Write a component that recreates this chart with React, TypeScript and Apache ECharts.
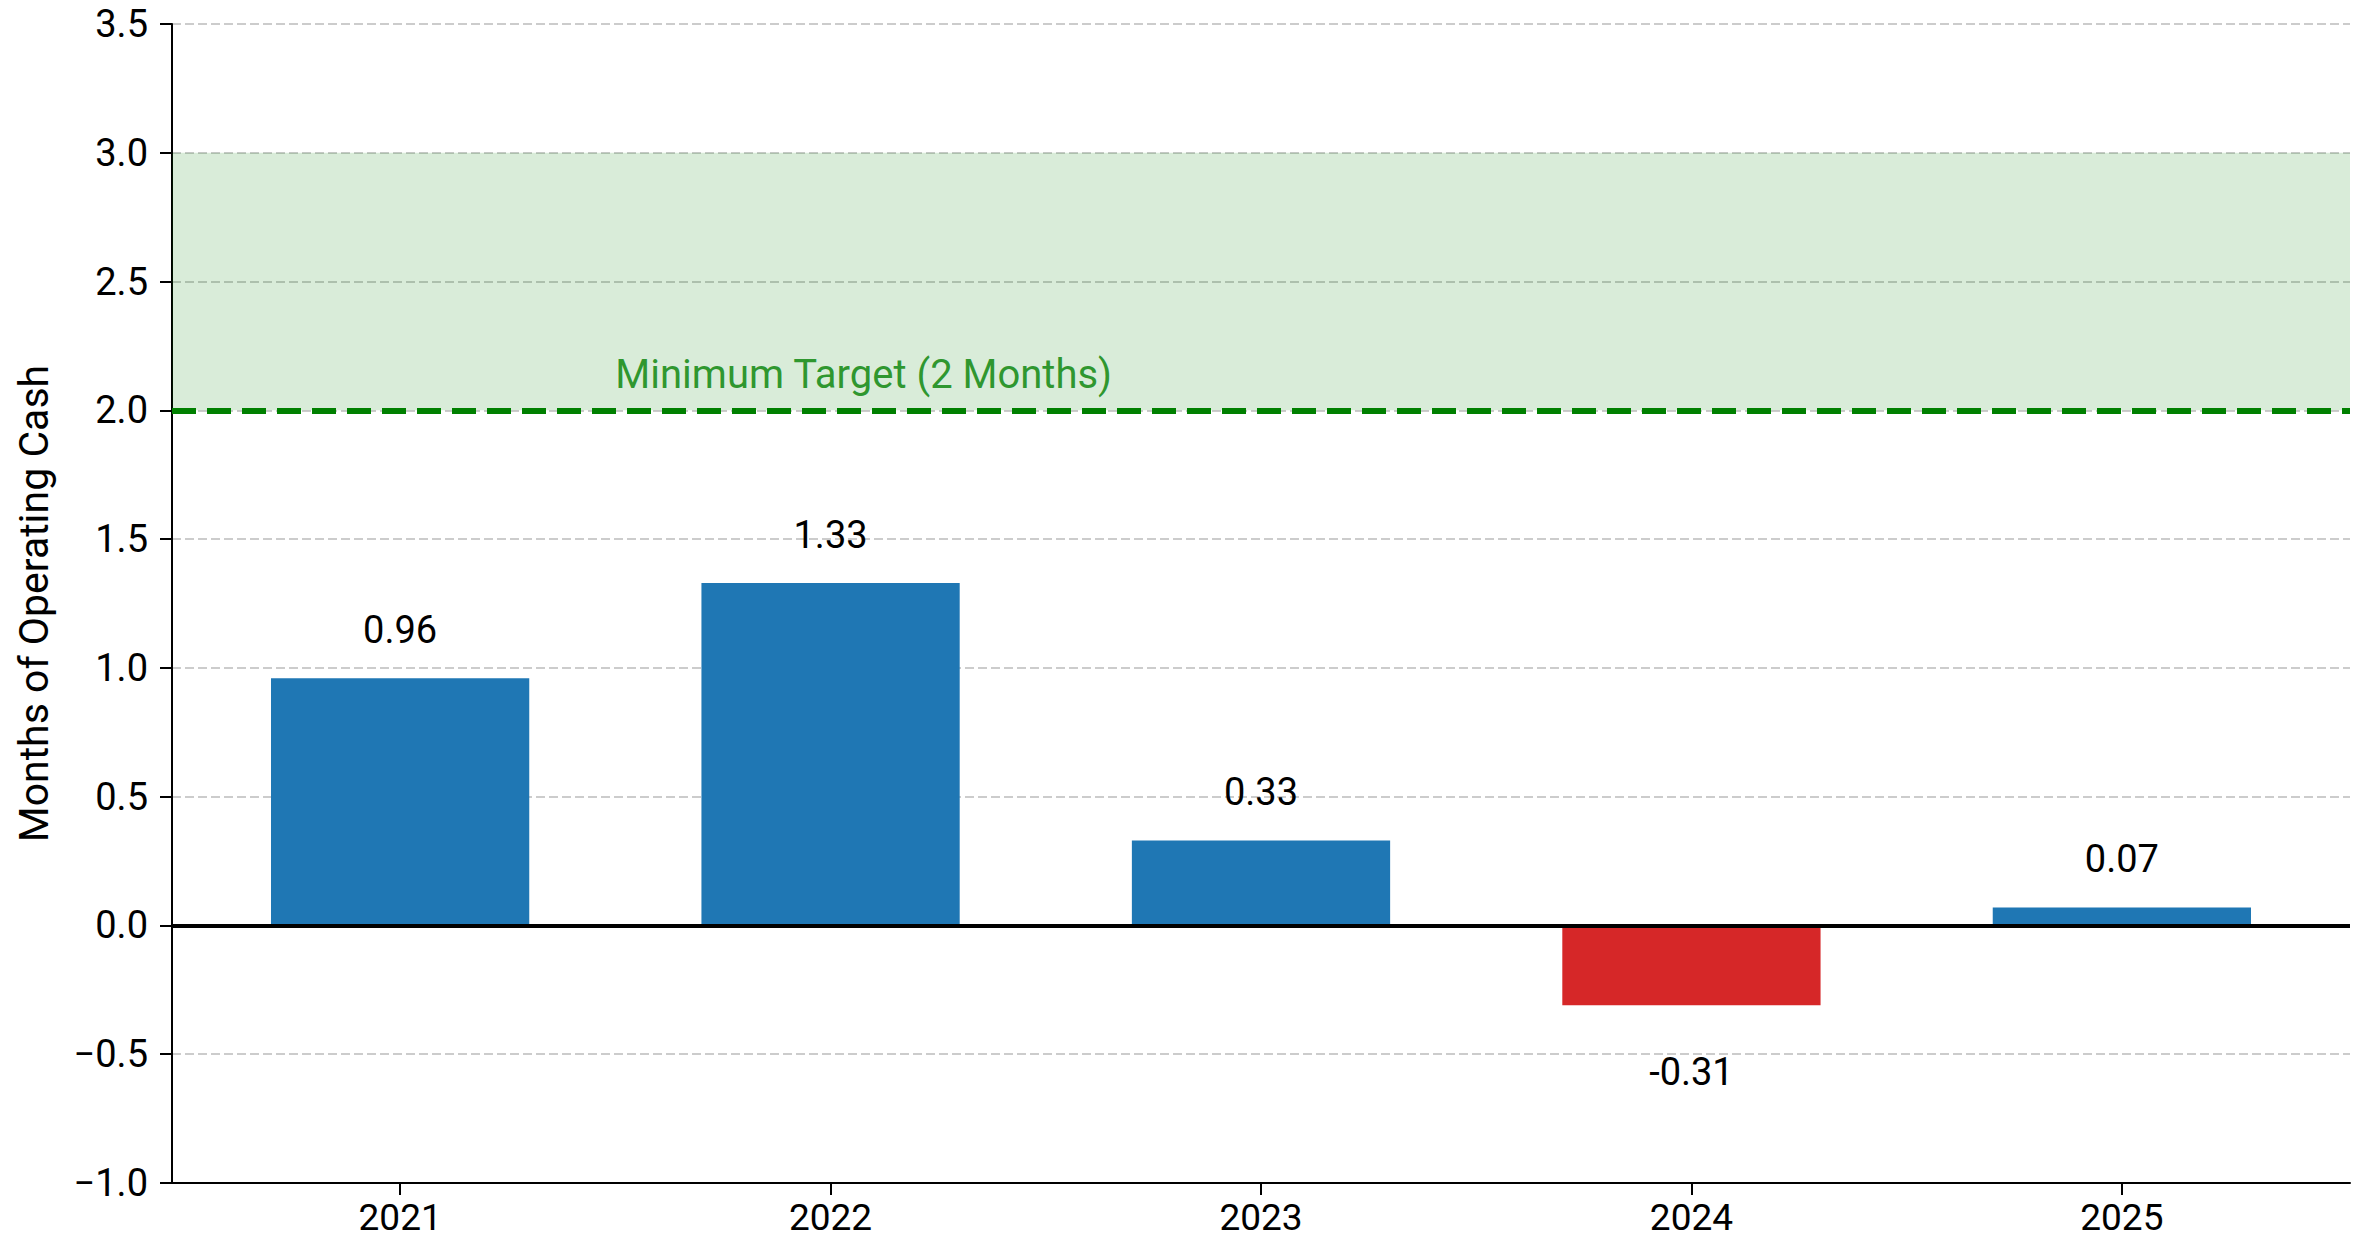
import React, { useEffect, useRef } from 'react';
import * as echarts from 'echarts';

const YEARS = ['2021', '2022', '2023', '2024', '2025'];
const VALUES = [0.96, 1.33, 0.33, -0.31, 0.07];
const Y_MIN = -1.0;
const Y_MAX = 3.5;
const Y_STEP = 0.5;
const X_MIN = -0.53;
const X_MAX = 4.53;
const TARGET = 2.0;
const BAND_TOP = 3.0;
const TARGET_LABEL = 'Minimum Target (2 Months)';
const TARGET_LABEL_X = 0.5;
const Y_NAME = 'Months of Operating Cash';

const FONT = 'Roboto, "Noto Sans", sans-serif';

export default function App() {
  const ref = useRef<HTMLDivElement>(null);
  useEffect(() => {
    const chart = echarts.init(ref.current as HTMLDivElement, null, { renderer: 'svg' });
    const idx = YEARS.map((_, i) => i);
    chart.setOption({
      animation: false,
      backgroundColor: '#ffffff',
      grid: {
        left: 172,
        right: 14,
        top: 24,
        bottom: 58,
        containLabel: false,
        outerBoundsMode: 'none',
      },
      xAxis: {
        type: 'value',
        min: X_MIN,
        max: X_MAX,
        axisLine: { show: true, onZero: false, lineStyle: { color: '#000', width: 2 } },
        axisTick: { show: true, customValues: idx, length: 12, lineStyle: { color: '#000', width: 2 } },
        axisLabel: {
          show: true,
          customValues: idx,
          formatter: (v: number) => YEARS[Math.round(v)] ?? '',
          margin: 17,
          lineHeight: 34,
          color: '#000',
          fontSize: 37,
          fontFamily: FONT,
        },
        splitLine: { show: false },
      },
      yAxis: {
        type: 'value',
        min: Y_MIN,
        max: Y_MAX,
        interval: Y_STEP,
        name: Y_NAME,
        nameLocation: 'middle',
        nameGap: 118,
        nameTextStyle: { color: '#000', fontSize: 41, fontFamily: FONT },
        axisLine: { show: true, onZero: false, lineStyle: { color: '#000', width: 2 } },
        axisTick: { show: true, length: 12, lineStyle: { color: '#000', width: 2 } },
        axisLabel: {
          formatter: (v: number) => v.toFixed(1).replace('-', '\u2212'),
          margin: 24,
          color: '#000',
          fontSize: 38,
          fontFamily: FONT,
        },
        splitLine: { show: true, lineStyle: { color: '#cccccc', width: 2, type: [9, 4] } },
      },
      series: [
        {
          type: 'bar',
          barWidth: '60%',
          data: VALUES.map((v, i) => ({
            value: [i, v],
            itemStyle: { color: v < 0 ? '#d62728' : '#1f77b4' },
            label: {
              show: true,
              position: v < 0 ? 'bottom' : 'top',
              distance: v < 0 ? 48 : 29,
              formatter: v.toFixed(2),
              color: '#000',
              fontSize: 38,
              fontFamily: FONT,
            },
          })),
          markArea: {
            silent: true,
            itemStyle: { color: 'rgba(0,128,0,0.15)' },
            data: [[{ yAxis: TARGET }, { yAxis: BAND_TOP }]],
          },
          markLine: {
            silent: true,
            symbol: 'none',
            label: { show: false },
            data: [
              { yAxis: 0, lineStyle: { color: '#000', width: 4, type: 'solid' } },
              { yAxis: TARGET, lineStyle: { color: '#008000', width: 6, type: [24, 11] } },
            ],
          },
        },
        {
          type: 'scatter',
          symbolSize: 0,
          silent: true,
          data: [[TARGET_LABEL_X, TARGET]],
          label: {
            show: true,
            position: [0, -16],
            align: 'left',
            verticalAlign: 'bottom',
            formatter: TARGET_LABEL,
            color: '#008000',
            fontSize: 40,
            fontFamily: FONT,
          },
        },
      ],
    });
    return () => chart.dispose();
  }, []);
  return (
    <div
      ref={ref}
      style={{ position: 'fixed', left: 0, top: 0, width: 2364, height: 1241, background: '#fff' }}
    />
  );
}
